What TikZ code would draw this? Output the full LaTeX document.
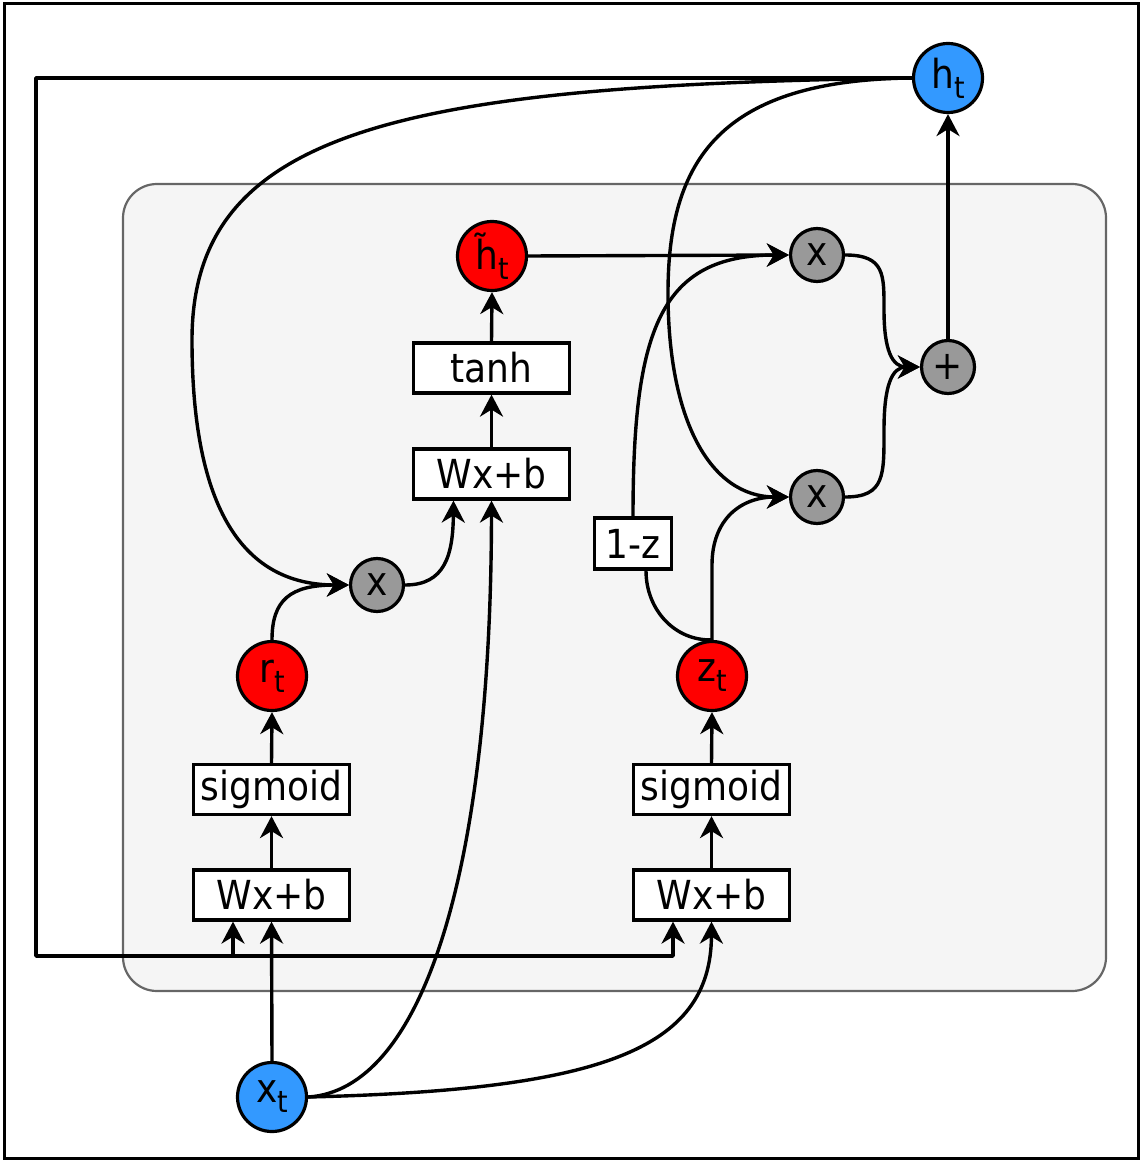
\documentclass[tikz,border=0pt]{standalone}
\usepackage{fontspec}
\setmainfont{DejaVu Sans}[FakeStretch=0.9]
\usetikzlibrary{arrows.meta,calc}
\definecolor{cblue}{HTML}{3399FF}
\definecolor{cred}{HTML}{FF0000}
\definecolor{cgray}{HTML}{999999}
\definecolor{cbox}{HTML}{F5F5F5}
\definecolor{cboxline}{HTML}{666666}
\newcommand{\sbt}[1]{\raisebox{-5pt}{\fontsize{15}{16}\selectfont #1}}
\begin{document}
\begin{tikzpicture}[x=0.5pt,y=-0.5pt,
  conn/.style={line width=1.7pt, line join=round},
  arr/.style={conn, -{Stealth[length=11pt,width=11.5pt,inset=3.5pt]}},
  bigc/.style={circle, draw=black, line width=1.6pt, minimum size=34.5pt, inner sep=0pt, font=\fontsize{20}{22}\selectfont},
  smallc/.style={circle, draw=black, line width=1.6pt, minimum size=26.5pt, inner sep=0pt, fill=cgray, font=\fontsize{20}{22}\selectfont},
  opbox/.style={draw=black, line width=1.6pt, fill=white, minimum width=78pt, minimum height=25pt, inner sep=0pt, font=\fontsize{20}{22}\selectfont}
]
\useasboundingbox (0,0) rectangle (1142,1160);
\draw[line width=1.5pt] (4,4) rectangle (1138,1158);
\draw[draw=cboxline, fill=cbox, line width=1.1pt, rounded corners=17pt] (123,184) rectangle (1106,991);

% nodes
\node[bigc, fill=cblue] (ht) at (948,78) {h\sbt{t}};
\node[bigc, fill=cred] (htil) at (492,256) {h̃\sbt{t}};
\node[smallc] (m1) at (817,255) {x};
\node[smallc] (plus) at (948,367) {+};
\node[smallc] (m2) at (817,497) {x};
\node[opbox] (tanh) at (491.5,368) {tanh};
\node[opbox] (wxbT) at (491.5,474) {Wx+b};
\node[opbox, minimum width=38.5pt, minimum height=25.5pt] (onez) at (633,543.5) {1-z};
\node[smallc] (mr) at (377,585) {x};
\node[bigc, fill=cred] (rt) at (272,676) {r\sbt{t}};
\node[bigc, fill=cred] (zt) at (712,676) {z\sbt{t}};
\node[opbox] (sigL) at (271.5,789.5) {sigmoid};
\node[opbox] (sigR) at (711.5,789.5) {sigmoid};
\node[opbox] (wxbL) at (271.5,895) {Wx+b};
\node[opbox] (wxbR) at (711.5,895) {Wx+b};
\node[bigc, fill=cblue] (xt) at (272,1097) {x\sbt{t}};

% feedback line
\coordinate (fb1) at (36,78);
\coordinate (fb2) at (36,956);
\coordinate (fb3) at (673,956);
\coordinate (fbB) at (233,956);
\draw[arr] (ht.west) -- (fb1) -- (fb2) -- (fb3) -- (fb3 |- wxbR.south);
\draw[arr] (fbB) -- (fbB |- wxbL.south);

% left column
\draw[arr] (xt.north) -- (wxbL.south);
\draw[arr] (wxbL.north) -- (sigL.south);
\draw[arr] (sigL.north) -- (rt.south);
\draw[arr] (rt.north) .. controls (272,600) and (290,585) .. (mr.west);
\draw[arr] (ht.west) .. controls (400,85) and (192,130) .. (192,340) .. controls (192,520) and (250,585) .. (mr.west);
\draw[arr] (mr.east) .. controls (445,585) and (453,555) .. ([xshift=-19pt]wxbT.south);

% middle column
\draw[arr] (xt.east) .. controls (420,1090) and (491,880) .. (wxbT.south);
\draw[arr] (wxbT.north) -- (tanh.south);
\draw[arr] (tanh.north) -- (htil.south);
\draw[arr] (htil.east) -- (m1.west);

% right column
\draw[arr] (xt.east) .. controls (600,1090) and (711,1050) .. (wxbR.south);
\draw[arr] (wxbR.north) -- (sigR.south);
\draw[arr] (sigR.north) -- (zt.south);
\draw[conn] (zt.north) .. controls (675,641) and (646,610) .. ([xshift=6.5pt]onez.south);
\draw[arr] (onez.north) .. controls (633,330) and (660,255) .. (m1.west);
\draw[arr] (zt.north) -- (712,565) .. controls (712,520) and (740,497) .. (m2.west);
\draw[arr] (ht.west) .. controls (720,80) and (668,160) .. (668,293) .. controls (668,420) and (710,497) .. (m2.west);

% to plus
\draw[arr] (m1.east) .. controls (885,255) and (884,275) .. (884,310) .. controls (884,350) and (892,367) .. (plus.west);
\draw[arr] (m2.east) .. controls (885,497) and (884,475) .. (884,430) .. controls (884,385) and (892,367) .. (plus.west);
\draw[arr] (plus.north) -- (ht.south);
\end{tikzpicture}
\end{document}
